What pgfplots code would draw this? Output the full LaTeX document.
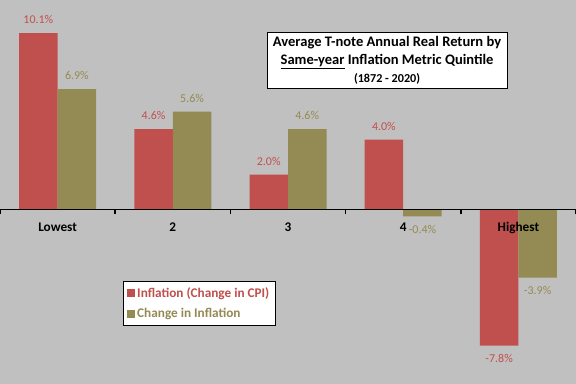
\documentclass[border=0pt]{standalone}
\usepackage{pgfplots}
\pgfplotsset{compat=1.18}
\usepackage{fontspec}
\setmainfont{Carlito}
\definecolor{myred}{HTML}{C0504D}
\definecolor{myolive}{HTML}{948A54}
\definecolor{bggray}{HTML}{C0C0C0}
\begin{document}
\begin{tikzpicture}
\begin{axis}[
  width=576bp, height=384bp, scale only axis,
  xmin=-0.5, xmax=4.5, ymin=-10, ymax=12,
  axis on top,
  axis background/.style={fill=bggray},
  axis x line=middle, axis y line=none,
  axis line style={-, line width=1.5bp, black},
  ybar=0pt, bar width=38.5bp,
  xtick={0,1,2,3,4},
  xticklabels={Lowest,2,3,4,Highest},
  major tick length=0pt,
  extra x ticks={-0.5,0.5,1.5,2.5,3.5,4.5},
  extra x tick labels={},
  extra x tick style={major tick length=5bp, tick align=outside, tick style={line width=1.5bp, black}},
  xticklabel style={font=\fontsize{13.3}{16}\selectfont\bfseries, anchor=base, yshift=-22bp},
  /pgf/number format/assume math mode=true,
  nodes near coords={\pgfmathprintnumber[fixed,fixed zerofill,precision=1]{\pgfplotspointmeta}\%},
  every node near coord/.append style={font=\fontsize{12}{14}\selectfont, inner ysep=9bp},
  legend style={at={(0.346,0.21)}, anchor=center, draw=black, fill=white,
    font=\fontsize{13.3}{16}\selectfont\bfseries, inner xsep=4bp, inner ysep=4bp,
    row sep=5bp, line width=0.8bp},
  legend cell align=left,
  legend image code/.code={\fill[#1] (0bp,-4bp) rectangle (8bp,4bp);},
]
\addplot[fill=myred, draw=none, every node near coord/.append style={text=myred}]
  coordinates {(0,10.1) (1,4.6) (2,2.0) (3,4.0) (4,-7.8)};
\addlegendentry{\textcolor{myred}{Inflation (Change in CPI)}}
\addplot[fill=myolive, draw=none, every node near coord/.append style={text=myolive}]
  coordinates {(0,6.9) (1,5.6) (2,4.6) (3,-0.4) (4,-3.9)};
\addlegendentry{\textcolor{myolive}{Change in Inflation}}
\node[draw=black, line width=0.8bp, fill=white, align=center, minimum width=240bp,
  minimum height=56bp, inner sep=0pt, font=\fontsize{14.6}{18}\selectfont\bfseries]
  at (rel axis cs:0.672,0.844)
  {Average T-note Annual Real Return by\\ \underline{Same-year} Inflation Metric Quintile\\ \fontsize{12.2}{18}\selectfont (1872 - 2020)};
\end{axis}
\pgfresetboundingbox
\useasboundingbox (current axis.south west) rectangle (current axis.north east);
\end{tikzpicture}
\end{document}
